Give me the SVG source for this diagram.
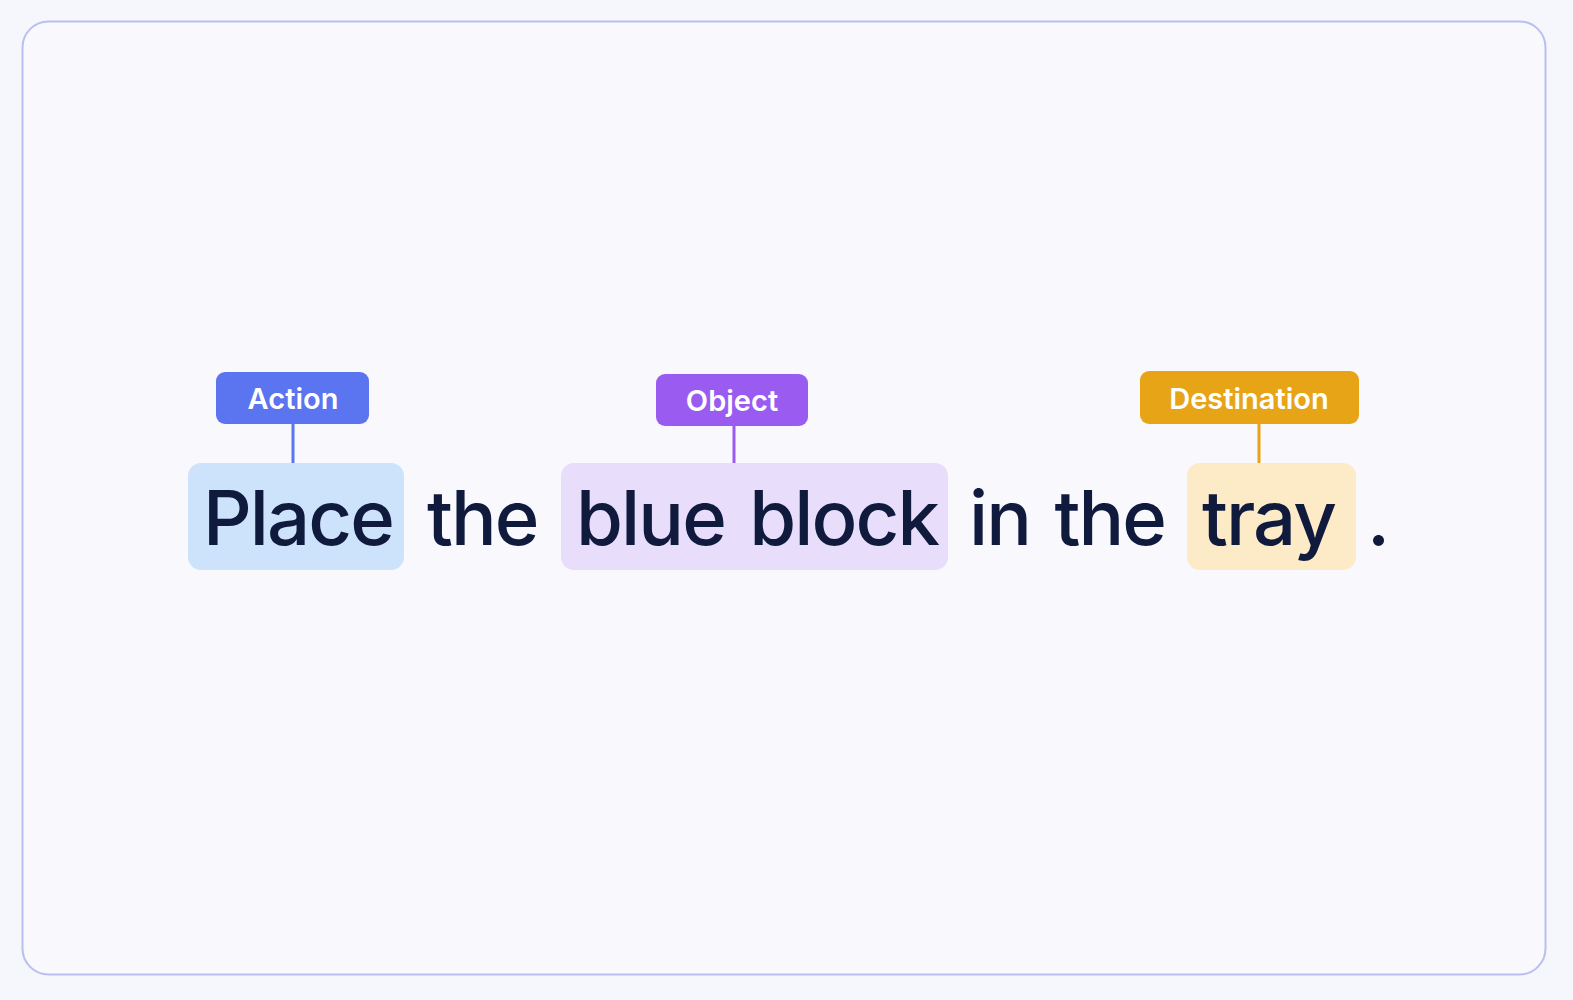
<svg xmlns="http://www.w3.org/2000/svg" width="1573" height="1000" viewBox="0 0 1573 1000">
<style>
.word{font-family:Inter,"Liberation Sans",sans-serif;font-size:76px;font-weight:500;fill:#0f1a3d;letter-spacing:-1.9px;word-spacing:6px}
.tag{font-family:Inter,"Liberation Sans",sans-serif;font-size:29px;font-weight:600;fill:#ffffff;text-anchor:middle}
.conn{stroke-width:3;fill:none}
</style>
<rect x="0" y="0" width="1573" height="1000" fill="#f6f6fd"/>
<rect x="22.5" y="21.5" width="1523" height="953" rx="26" fill="#f8f8fd" stroke="#b9bff0" stroke-width="2"/>
<g id="connectors">
<line class="conn" x1="293" y1="424" x2="293" y2="463" stroke="#5b74ef"/>
<line class="conn" x1="734" y1="426" x2="734" y2="463" stroke="#9a5cf0"/>
<line class="conn" x1="1259" y1="424" x2="1259" y2="463" stroke="#e8a417"/>
</g>
<g id="word-place">
<rect x="188" y="463" width="216" height="107" rx="13" fill="#cde3fb"/>
<text class="word" x="203" y="545">Place</text>
</g>
<text class="word" x="427" y="545">the</text>
<g id="word-blue-block">
<rect x="561" y="463" width="387" height="107" rx="13" fill="#e8ddfb"/>
<text class="word" x="576" y="545">blue block</text>
</g>
<text class="word" x="969" y="545">in the</text>
<g id="word-tray">
<rect x="1187" y="463" width="169" height="107" rx="13" fill="#fdebc7"/>
<text class="word" x="1202" y="545">tray</text>
</g>
<text class="word" x="1367" y="545">.</text>
<g id="tag-action">
<rect x="216" y="372" width="153" height="52" rx="9" fill="#5b74ef"/>
<text class="tag" x="293" y="409">Action</text>
</g>
<g id="tag-object">
<rect x="656" y="374" width="152" height="52" rx="9" fill="#9a5cf0"/>
<text class="tag" x="732" y="411">Object</text>
</g>
<g id="tag-destination">
<rect x="1140" y="371" width="219" height="53" rx="9" fill="#e8a417"/>
<text class="tag" x="1249" y="409">Destination</text>
</g>
</svg>
